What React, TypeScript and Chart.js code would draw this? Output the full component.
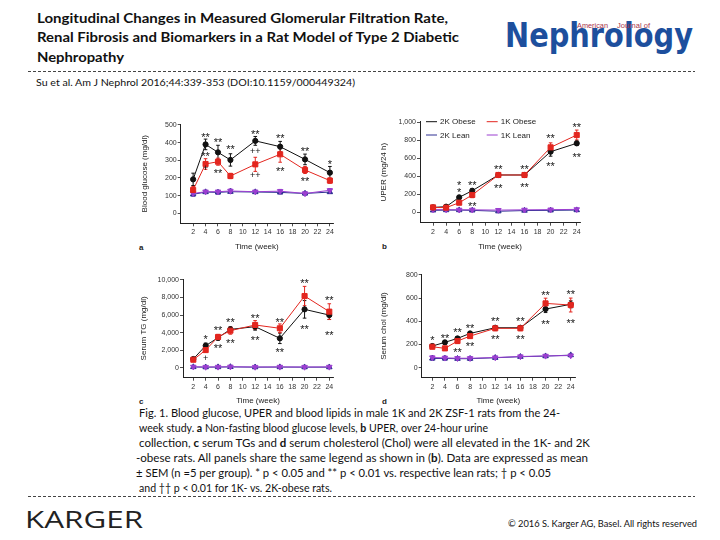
import React, { useEffect, useRef } from "react";
import { Chart, registerables } from "chart.js";
Chart.register(...registerables);

// ---------- data ----------
const WEEKS = [2, 4, 6, 8, 12, 16, 20, 24];
const X_TICKS = [2, 4, 6, 8, 10, 12, 14, 16, 18, 20, 22, 24];
const SERIES_LABELS = ["2K Obese", "1K Obese", "2K Lean", "1K Lean"];

// a: blood glucose (mg/dl)
const GLU_2K_OBESE = [192, 390, 345, 302, 410, 377, 305, 230];
const GLU_1K_OBESE = [132, 279, 292, 211, 277, 334, 245, 185];
const GLU_2K_LEAN = [107, 120, 118, 122, 120, 118, 112, 120];
const GLU_1K_LEAN = [112, 122, 122, 126, 122, 125, 112, 130];
const GLU_2K_OBESE_SEM = [35, 30, 40, 35, 25, 30, 30, 35];
const GLU_1K_OBESE_SEM = [20, 30, 20, 15, 40, 45, 20, 15];
const GLU_2K_LEAN_SEM = [10, 8, 10, 10, 8, 8, 8, 8];
const GLU_1K_LEAN_SEM = [8, 8, 8, 12, 8, 10, 8, 10];
const GLU_Y_TICKS = [0, 100, 200, 300, 400, 500];
const GLU_MARKS: [number, number, string][] = [
  [4, 449, "**"], [4, 340, "**"], [4, 255, "+"],
  [6, 419, "**"], [6, 245, "**"],
  [8, 377, "**"],
  [12, 462, "**"], [12, 355, "++"], [12, 217, "++"],
  [16, 443, "**"], [16, 255, "**"],
  [20, 368, "**"], [20, 198, "**"],
  [24, 292, "*"],
];

// b: UPER (mg/24 h)
const UPER_2K_OBESE = [55, 63, 167, 240, 415, 415, 674, 767];
const UPER_1K_OBESE = [55, 52, 107, 193, 415, 415, 722, 859];
const UPER_2K_LEAN = [22, 25, 25, 22, 12, 20, 22, 25];
const UPER_1K_LEAN = [30, 30, 28, 28, 25, 28, 30, 33];
const UPER_2K_OBESE_SEM = [10, 10, 20, 25, 20, 20, 50, 25];
const UPER_1K_OBESE_SEM = [10, 10, 20, 30, 25, 25, 50, 55];
const UPER_2K_LEAN_SEM = [5, 5, 5, 5, 5, 5, 5, 5];
const UPER_1K_LEAN_SEM = [5, 5, 5, 5, 5, 5, 5, 5];
const UPER_Y_TICKS = [0, 200, 400, 600, 800, 1000];
const UPER_MARKS: [number, number, string][] = [
  [6, 329, "*"], [6, 250, "*"],
  [8, 329, "**"], [8, 100, "**"],
  [12, 507, "**"], [12, 296, "**"],
  [16, 507, "**"], [16, 315, "**"],
  [20, 851, "**"], [20, 544, "**"],
  [24, 981, "**"], [24, 648, "**"],
];

// c: serum TG (mg/dl)
const TG_2K_OBESE = [990, 2510, 3420, 4370, 4680, 3350, 6650, 6000];
const TG_1K_OBESE = [910, 2010, 3500, 4220, 4870, 4490, 8170, 6390];
const TG_2K_LEAN = [80, 60, 70, 90, 60, 70, 60, 60];
const TG_1K_LEAN = [100, 80, 90, 110, 80, 90, 80, 90];
const TG_2K_OBESE_SEM = [150, 300, 300, 300, 400, 600, 1000, 500];
const TG_1K_OBESE_SEM = [150, 250, 300, 400, 500, 500, 1100, 900];
const TG_2K_LEAN_SEM = [60, 60, 60, 60, 60, 60, 60, 60];
const TG_1K_LEAN_SEM = [60, 60, 60, 60, 60, 60, 60, 60];
const TG_Y_TICKS = [0, 2000, 4000, 6000, 8000, 10000];
const TG_MARKS: [number, number, string][] = [
  [4, 3540, "*"], [4, 1060, "+"],
  [6, 4560, "**"], [6, 2510, "**"],
  [8, 5550, "**"], [8, 3120, "**"],
  [12, 5930, "**"], [12, 3460, "**"],
  [16, 5550, "**"], [16, 2130, "**"],
  [20, 10000, "**"], [20, 4750, "**"],
  [24, 7980, "**"], [24, 3990, "**"],
];

// d: serum cholesterol (mg/dl)
const CHOL_2K_OBESE = [187, 219, 253, 296, 345, 345, 506, 547];
const CHOL_1K_OBESE = [181, 167, 230, 273, 340, 340, 555, 541];
const CHOL_2K_LEAN = [80, 80, 78, 78, 86, 95, 100, 109];
const CHOL_1K_LEAN = [88, 85, 82, 82, 88, 97, 102, 105];
const CHOL_2K_OBESE_SEM = [15, 15, 15, 15, 15, 15, 30, 30];
const CHOL_1K_OBESE_SEM = [15, 15, 20, 20, 20, 20, 45, 60];
const CHOL_2K_LEAN_SEM = [15, 15, 15, 15, 10, 10, 10, 10];
const CHOL_1K_LEAN_SEM = [15, 15, 15, 15, 10, 10, 10, 10];
const CHOL_Y_TICKS = [0, 200, 400, 600, 800];
const CHOL_MARKS: [number, number, string][] = [
  [2, 259, "*"],
  [4, 276, "**"],
  [6, 334, "**"], [6, 161, "**"],
  [8, 368, "**"], [8, 210, "**"],
  [12, 426, "**"], [12, 273, "**"],
  [16, 426, "**"], [16, 273, "**"],
  [20, 650, "**"], [20, 397, "**"],
  [24, 662, "**"], [24, 406, "**"],
];

// ---------- styles ----------
const FONT = '"Liberation Sans", Arial, sans-serif';
const STYLES = [
  { color: "#111111", pointStyle: "circle", radius: 2.6, rotation: 0, order: 1 },
  { color: "#e3261f", pointStyle: "rect", radius: 3.6, rotation: 0, order: 0 },
  { color: "#2e3192", pointStyle: "triangle", radius: 3.2, rotation: 0, order: 3 },
  { color: "#9b3fd0", pointStyle: "triangle", radius: 3.2, rotation: 180, order: 2 },
];

type Panel = {
  left: number; top: number; width: number; height: number;
  yAxisW: number; xAxisH: number; padTop: number; padRight: number;
  xMin: number; xMax: number; yMin: number; yMax: number;
  yTicks: number[]; yTitle: string; yTitlePad: number; xTitlePad: number;
  series: number[][]; sems: number[][]; marks: [number, number, string][];
  legend: boolean;
};

const PANELS: Panel[] = [
  {
    left: 130, top: 110, width: 220, height: 152, yAxisW: 50.7, xAxisH: 38.7, padTop: 14.1, padRight: 17,
    xMin: 0, xMax: 24.5, yMin: -57, yMax: 505, yTicks: GLU_Y_TICKS, yTitle: "Blood glucose (mg/dl)",
    yTitlePad: 10.2, xTitlePad: 10.2,
    series: [GLU_2K_OBESE, GLU_1K_OBESE, GLU_2K_LEAN, GLU_1K_LEAN],
    sems: [GLU_2K_OBESE_SEM, GLU_1K_OBESE_SEM, GLU_2K_LEAN_SEM, GLU_1K_LEAN_SEM],
    marks: GLU_MARKS, legend: false,
  },
  {
    left: 370, top: 110, width: 220, height: 152, yAxisW: 50, xAxisH: 39.3, padTop: 11.7, padRight: 10,
    xMin: 0, xMax: 24.5, yMin: -115, yMax: 1007, yTicks: UPER_Y_TICKS, yTitle: "UPER (mg/24 h)",
    yTitlePad: 8.5, xTitlePad: 10.5,
    series: [UPER_2K_OBESE, UPER_1K_OBESE, UPER_2K_LEAN, UPER_1K_LEAN],
    sems: [UPER_2K_OBESE_SEM, UPER_1K_OBESE_SEM, UPER_2K_LEAN_SEM, UPER_1K_LEAN_SEM],
    marks: UPER_MARKS, legend: true,
  },
  {
    left: 130, top: 265, width: 220, height: 145, yAxisW: 53, xAxisH: 32.3, padTop: 14.1, padRight: 17,
    xMin: 0.33, xMax: 24.6, yMin: -1140, yMax: 10100, yTicks: TG_Y_TICKS, yTitle: "Serum TG (mg/dl)",
    yTitlePad: 8.5, xTitlePad: 4.2,
    series: [TG_2K_OBESE, TG_1K_OBESE, TG_2K_LEAN, TG_1K_LEAN],
    sems: [TG_2K_OBESE_SEM, TG_1K_OBESE_SEM, TG_2K_LEAN_SEM, TG_1K_LEAN_SEM],
    marks: TG_MARKS, legend: false,
  },
  {
    left: 370, top: 265, width: 220, height: 145, yAxisW: 51.7, xAxisH: 32.3, padTop: 9.3, padRight: 15,
    xMin: 0.31, xMax: 24.68, yMin: -86, yMax: 806, yTicks: CHOL_Y_TICKS, yTitle: "Serum chol (mg/dl)",
    yTitlePad: 8.5, xTitlePad: 4.2,
    series: [CHOL_2K_OBESE, CHOL_1K_OBESE, CHOL_2K_LEAN, CHOL_1K_LEAN],
    sems: [CHOL_2K_OBESE_SEM, CHOL_1K_OBESE_SEM, CHOL_2K_LEAN_SEM, CHOL_1K_LEAN_SEM],
    marks: CHOL_MARKS, legend: false,
  },
];

const PANEL_LETTERS = ["a", "b", "c", "d"];
const LETTER_POS = [[139, 250], [382, 249], [139, 404], [382, 404]];

function drawMarker(ctx: CanvasRenderingContext2D, s: any, x: number, y: number) {
  ctx.save();
  ctx.fillStyle = s.color;
  ctx.strokeStyle = s.color;
  ctx.lineWidth = 1;
  (Chart as any).helpers?.drawPoint
    ? (Chart as any).helpers.drawPoint(ctx, { pointStyle: s.pointStyle, rotation: s.rotation, radius: s.radius, borderWidth: 1 }, x, y)
    : null;
  ctx.restore();
}

function makeChart(canvas: HTMLCanvasElement, p: Panel) {
  const errorPlugin = {
    id: "errbars",
    beforeDatasetsDraw(chart: any) {
      const { ctx, scales } = chart;
      const xs = scales.x, ys = scales.y;
      ctx.save();
      ctx.lineWidth = 1;
      p.series.forEach((vals, si) => {
        ctx.strokeStyle = STYLES[si].color;
        vals.forEach((v, i) => {
          const e = p.sems[si][i];
          const px = xs.getPixelForValue(WEEKS[i]);
          const y1 = ys.getPixelForValue(v + e);
          const y2 = ys.getPixelForValue(v - e);
          ctx.beginPath();
          ctx.moveTo(px, y1); ctx.lineTo(px, y2);
          ctx.moveTo(px - 1.8, y1); ctx.lineTo(px + 1.8, y1);
          ctx.moveTo(px - 1.8, y2); ctx.lineTo(px + 1.8, y2);
          ctx.stroke();
        });
      });
      ctx.restore();
    },
  };
  const markPlugin = {
    id: "sigmarks",
    afterDatasetsDraw(chart: any) {
      const { ctx, scales } = chart;
      ctx.save();
      ctx.fillStyle = "#151515";
      ctx.textAlign = "center";
      ctx.textBaseline = "alphabetic";
      p.marks.forEach(([wx, wy, t]) => {
        const star = t.includes("*");
        const size = star ? 11 : 9;
        ctx.font = `${size}px ${FONT}`;
        const off = star ? 0.6 * size : 0.33 * size;
        ctx.fillText(t, scales.x.getPixelForValue(wx), scales.y.getPixelForValue(wy) + off);
      });
      ctx.restore();
    },
  };
  const legendPlugin = {
    id: "inlegend",
    afterDraw(chart: any) {
      if (!p.legend) return;
      const { ctx, chartArea } = chart;
      const l = chartArea.left, t = chartArea.top;
      const cols = [6, 66.7];
      const rows = [0, 13.3];
      ctx.save();
      SERIES_LABELS.forEach((lab, i) => {
        const s = STYLES[i];
        const cx = l + cols[i % 2];
        const cy = t + rows[Math.floor(i / 2)];
        ctx.strokeStyle = s.color;
        ctx.lineWidth = 1;
        ctx.beginPath();
        ctx.moveTo(cx, cy); ctx.lineTo(cx + 11, cy);
        ctx.stroke();
        ctx.fillStyle = s.color;
        ctx.strokeStyle = s.color;
        const helpers = (Chart as any).helpers;
        if (helpers && helpers.drawPoint) {
          helpers.drawPoint(ctx, { pointStyle: s.pointStyle, rotation: s.rotation, radius: s.radius, borderWidth: 1 }, cx + 5.5, cy);
        }
        ctx.fillStyle = "#222";
        ctx.font = `8px ${FONT}`;
        ctx.textAlign = "left";
        ctx.textBaseline = "middle";
        ctx.fillText(lab, cx + 14, cy + 0.5);
      });
      ctx.restore();
    },
  };

  const tickFont = { family: FONT, size: 7 };
  const titleFont = { family: FONT, size: 8 };
  return new Chart(canvas, {
    type: "line",
    data: {
      datasets: p.series.map((vals, si) => ({
        label: SERIES_LABELS[si],
        data: vals.map((v, i) => ({ x: WEEKS[i], y: v })),
        borderColor: STYLES[si].color,
        backgroundColor: STYLES[si].color,
        pointBackgroundColor: STYLES[si].color,
        pointBorderColor: STYLES[si].color,
        pointStyle: STYLES[si].pointStyle as any,
        pointRadius: STYLES[si].radius,
        pointRotation: STYLES[si].rotation,
        borderWidth: 1,
        pointBorderWidth: 1,
        tension: 0,
        fill: false,
        order: STYLES[si].order,
      })),
    },
    options: {
      animation: false,
      responsive: false,
      maintainAspectRatio: false,
      layout: { padding: { left: 0, top: p.padTop, right: p.padRight, bottom: 0 } },
      plugins: { legend: { display: false }, tooltip: { enabled: false }, title: { display: false } },
      scales: {
        x: {
          type: "linear",
          min: p.xMin,
          max: p.xMax,
          afterFit: (s: any) => { s.height = p.xAxisH; },
          afterBuildTicks: (s: any) => { s.ticks = X_TICKS.map((v) => ({ value: v })); },
          grid: { display: true, drawOnChartArea: false, drawTicks: true, tickLength: 3, color: "#222", lineWidth: 0.8 },
          border: { display: true, color: "#222", width: 1 },
          ticks: { font: tickFont, color: "#333", padding: 2, maxRotation: 0, autoSkip: false, callback: (v: any) => String(v) },
          title: { display: true, text: "Time (week)", font: titleFont, color: "#222", padding: { top: 0, bottom: p.xTitlePad } },
        },
        y: {
          type: "linear",
          min: p.yMin,
          max: p.yMax,
          afterFit: (s: any) => { s.width = p.yAxisW; },
          afterBuildTicks: (s: any) => { s.ticks = p.yTicks.map((v) => ({ value: v })); },
          grid: { display: true, drawOnChartArea: false, drawTicks: true, tickLength: 3, color: "#222", lineWidth: 0.8 },
          border: { display: true, color: "#222", width: 1 },
          ticks: { font: tickFont, color: "#333", padding: 1, autoSkip: false, callback: (v: any) => Number(v).toLocaleString("en-US") },
          title: { display: true, text: p.yTitle, font: titleFont, color: "#222", padding: { top: p.yTitlePad, bottom: 0 } },
        },
      },
    },
    plugins: [errorPlugin, markPlugin, legendPlugin],
  } as any);
}

function PanelChart({ p }: { p: Panel }) {
  const ref = useRef<HTMLCanvasElement>(null);
  useEffect(() => {
    if (!ref.current) return;
    const c = makeChart(ref.current, p);
    return () => c.destroy();
  }, [p]);
  return (
    <canvas
      ref={ref}
      width={p.width}
      height={p.height}
      style={{ position: "absolute", left: p.left, top: p.top, width: p.width, height: p.height }}
    />
  );
}

const TITLE_LINES = [
  "Longitudinal Changes in Measured Glomerular Filtration Rate,",
  "Renal Fibrosis and Biomarkers in a Rat Model of Type 2 Diabetic",
  "Nephropathy",
];
const TITLE_WIDTHS = [411, 422, 87];
const CITATION = "Su et al. Am J Nephrol 2016;44:339-353 (DOI:10.1159/000449324)";

type Seg = [string, boolean];
const CAPTION: Seg[][] = [
  [["Fig. 1. Blood glucose, UPER and blood lipids in male 1K and 2K ZSF-1 rats from the 24-", false]],
  [["week study. ", false], ["a", true], [" Non-fasting blood glucose levels, ", false], ["b", true], [" UPER, over 24-hour urine", false]],
  [["collection, ", false], ["c", true], [" serum TGs and ", false], ["d", true], [" serum cholesterol (Chol) were all elevated in the 1K- and 2K", false]],
  [["-obese rats. All panels share the same legend as shown in (", false], ["b", true], ["). Data are expressed as mean", false]],
  [["± SEM (n =5 per group). * p < 0.05 and ** p < 0.01 vs. respective lean rats; † p < 0.05", false]],
  [["and †† p < 0.01 for 1K- vs. 2K-obese rats.", false]],
];
const CAPTION_X = [139, 139, 139, 136, 136, 139];
const CAPTION_END = [560, 488, 590, 588, 551, 332];

export default function App() {
  useEffect(() => {
    document.body.style.margin = "0";
  }, []);
  const txt = "#111";
  return (
    <div style={{ position: "fixed", left: 0, top: 0, width: 720, height: 540, background: "#fff", overflow: "hidden" }}>
      <svg width={720} height={540} style={{ position: "absolute", left: 0, top: 0 }}>
        {TITLE_LINES.map((t, i) => (
          <text key={i} x={37} y={23 + i * 19.3} fontFamily="Lato, 'Open Sans', sans-serif" fontWeight={700} fontSize={13.5}
            fill={txt} textLength={TITLE_WIDTHS[i]} lengthAdjust="spacingAndGlyphs">{t}</text>
        ))}
        <text x={505} y={47} fontFamily="'Liberation Sans Narrow', 'DejaVu Sans Condensed', sans-serif" fontWeight={700}
          fontSize={33} fill="#1d4f9d" textLength={188} lengthAdjust="spacingAndGlyphs">Nephrology</text>
        <text x={577} y={28} fontFamily={FONT} fontSize={7} fill="#a8324a" textLength={31} lengthAdjust="spacingAndGlyphs">American</text>
        <text x={617} y={28} fontFamily={FONT} fontSize={7} fill="#a8324a" textLength={33} lengthAdjust="spacingAndGlyphs">Journal of</text>
        <line x1={28} y1={71.5} x2={695} y2={71.5} stroke="#444" strokeWidth={1} strokeDasharray="3 2" />
        <text x={36} y={86} fontFamily="Lato, sans-serif" fontSize={10} fill={txt} textLength={319} lengthAdjust="spacingAndGlyphs">{CITATION}</text>
        {CAPTION.map((segs, i) => (
          <text key={i} x={CAPTION_X[i]} y={417 + i * 15} fontFamily="Lato, sans-serif" fontSize={10.5} fill={txt}
            textLength={CAPTION_END[i] - CAPTION_X[i]} lengthAdjust="spacingAndGlyphs">
            {segs.map(([s, b], j) => (
              <tspan key={j} fontWeight={b ? 700 : 400}>{s}</tspan>
            ))}
          </text>
        ))}
        <line x1={28} y1={496.5} x2={695} y2={496.5} stroke="#444" strokeWidth={1} strokeDasharray="3 2" />
        <text x={25} y={528} fontFamily="'Open Sans', sans-serif" fontSize={23} fill="#222" textLength={118} lengthAdjust="spacingAndGlyphs">KARGER</text>
        <text x={508} y={527} fontFamily="Lato, sans-serif" fontSize={8.5} fill={txt} textLength={189} lengthAdjust="spacingAndGlyphs">© 2016 S. Karger AG, Basel. All rights reserved</text>
        {PANEL_LETTERS.map((l, i) => (
          <text key={l} x={LETTER_POS[i][0]} y={LETTER_POS[i][1]} fontFamily={FONT} fontWeight={700} fontSize={8} fill="#222">{l}</text>
        ))}
      </svg>
      {PANELS.map((p, i) => (
        <PanelChart key={i} p={p} />
      ))}
    </div>
  );
}
